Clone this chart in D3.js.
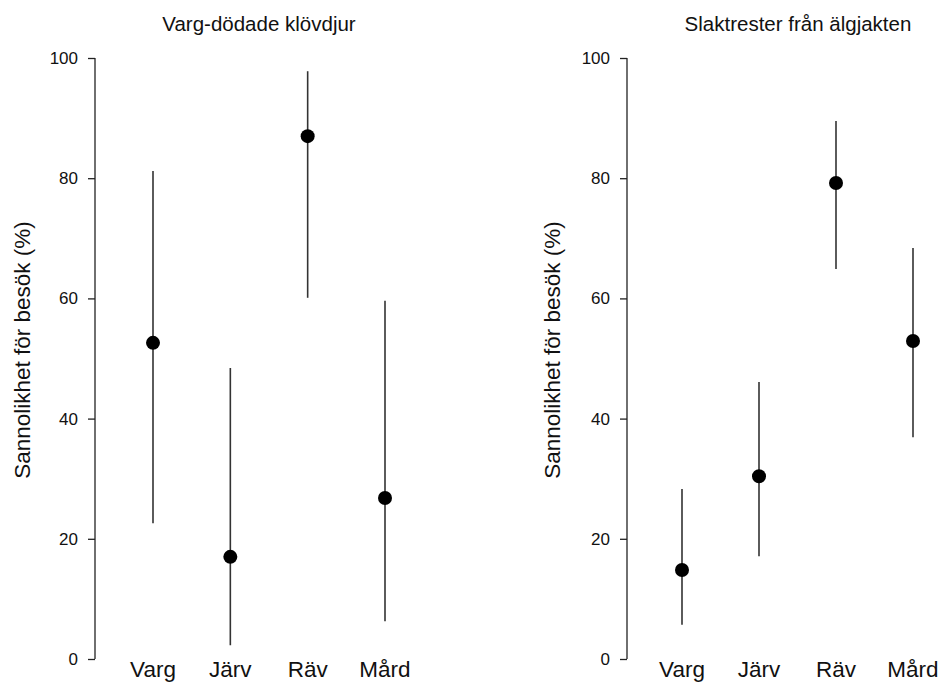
<!DOCTYPE html>
<html><head><meta charset="utf-8">
<script src="https://cdn.jsdelivr.net/npm/d3@7"></script>
<style>body{margin:0;background:#fff}svg{display:block}text{font-family:"Liberation Sans",Arial,sans-serif;fill:#111}</style>
</head><body>
<svg id="c" width="941" height="684"></svg>
<script>
const categories = ["Varg", "Järv", "Räv", "Mård"];
const yTicks = [0, 20, 40, 60, 80, 100];
const yLabel = "Sannolikhet för besök (%)";
const titles = ["Varg-dödade klövdjur", "Slaktrester från älgjakten"];
// panel 1: Varg-dödade klövdjur
const est1 = [52.6, 17.0, 87.0, 26.8];
const lo1  = [22.6, 2.3, 60.1, 6.3];
const hi1  = [81.2, 48.4, 97.8, 59.6];
// panel 2: Slaktrester från älgjakten
const est2 = [14.8, 30.4, 79.2, 52.9];
const lo2  = [5.7, 17.1, 64.9, 36.9];
const hi2  = [28.3, 46.1, 89.5, 68.4];

const svg = d3.select("#c");
const y = d3.scaleLinear().domain([0, 100]).range([659, 58]);

const panels = [
  {title: titles[0], est: est1, lo: lo1, hi: hi1, axisX: 95, xr: [153, 385], ylabX: 22, titleX: 259},
  {title: titles[1], est: est2, lo: lo2, hi: hi2, axisX: 627, xr: [682, 913], ylabX: 552, titleX: 798}
];

panels.forEach(p => {
  const g = svg.append("g");
  const x = d3.scalePoint().domain(categories).range(p.xr);
  const ax = g.append("g").attr("transform", `translate(${p.axisX},0)`)
    .call(d3.axisLeft(y).tickValues(yTicks).tickSize(7).tickPadding(10).tickFormat(d3.format("d")));
  ax.select(".domain").attr("stroke", "#222").attr("stroke-width", 1.3).attr("d", `M0,${y(0)}V${y(100)}`);
  ax.selectAll(".tick line").attr("stroke", "#222").attr("stroke-width", 1.3);
  ax.selectAll(".tick text").style("font-size", "17px").attr("fill", "#111")
    .style("font-family", '"Liberation Sans",Arial,sans-serif');

  categories.forEach((c, i) => {
    g.append("line").attr("x1", x(c)).attr("x2", x(c))
      .attr("y1", y(p.lo[i])).attr("y2", y(p.hi[i]))
      .attr("stroke", "#333").attr("stroke-width", 1.6);
    g.append("circle").attr("cx", x(c)).attr("cy", y(p.est[i])).attr("r", 7).attr("fill", "#000");
    g.append("text").attr("x", x(c)).attr("y", 677).attr("text-anchor", "middle")
      .style("font-size", "22.5px").text(c);
  });

  g.append("text").attr("x", p.titleX).attr("y", 31).attr("text-anchor", "middle")
    .style("font-size", "20.5px").text(p.title);
  g.append("text").attr("transform", `translate(${p.ylabX},350) rotate(-90)`)
    .attr("text-anchor", "middle").attr("dy", "0.35em").style("font-size", "22.5px").text(yLabel);
});
</script>
</body></html>
